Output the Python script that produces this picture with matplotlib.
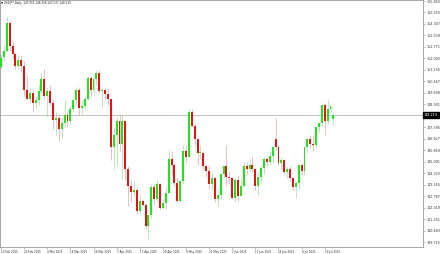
import matplotlib
matplotlib.use("Agg")
import matplotlib.pyplot as plt
import numpy as np

# USDJPY daily candles, 10 Feb 2025 .. 21 Jul 2025 (one row per trading day)
opens = [151.40, 152.10, 152.50, 154.40, 152.80, 152.30, 151.50, 151.90, 151.50, 149.90,
         149.30, 149.70, 149.00, 149.20, 149.80, 150.60, 149.50, 149.80, 149.00, 147.90,
         148.00, 147.30, 147.70, 148.20, 147.80, 148.60, 149.20, 149.90, 148.70, 148.80,
         149.30, 150.70, 149.90, 150.60, 151.00, 149.80, 149.90, 149.60, 149.30, 146.10,
         146.90, 147.80, 146.30, 147.80, 144.60, 143.50, 143.10, 143.20, 141.80, 142.50,
         142.20, 140.80, 141.50, 143.40, 142.60, 143.60, 142.00, 142.30, 143.00, 145.30,
         144.90, 143.70, 142.50, 143.80, 145.80, 145.40, 148.40, 147.50, 146.60, 145.70,
         145.70, 144.80, 144.50, 143.60, 144.00, 142.60, 142.90, 144.30, 144.80, 144.10,
         144.00, 142.70, 143.90, 142.80, 143.50, 144.80, 144.60, 144.90, 144.60, 143.50,
         144.10, 144.70, 145.30, 145.10, 145.50, 146.60, 146.10, 145.00, 145.20, 144.40,
         144.60, 144.00, 143.40, 143.70, 144.90, 144.50, 146.10, 146.60, 146.30, 146.20,
         147.40, 147.70, 148.90, 147.80, 148.60, 147.955]
highs = [152.30, 152.90, 154.80, 154.60, 153.20, 152.40, 152.20, 152.20, 151.80, 150.90,
         150.00, 149.90, 149.50, 150.20, 151.00, 151.30, 150.10, 150.20, 149.30, 148.40,
         148.20, 148.10, 149.20, 148.50, 148.80, 149.30, 150.10, 150.10, 149.20, 149.50,
         150.80, 150.80, 150.70, 151.20, 151.20, 150.00, 150.10, 150.00, 149.30, 147.40,
         148.10, 148.30, 148.30, 147.80, 144.80, 143.90, 143.90, 143.40, 142.90, 142.60,
         142.30, 141.50, 143.60, 143.60, 143.90, 143.70, 142.60, 143.40, 145.90, 145.80,
         145.00, 144.00, 143.90, 146.20, 146.20, 148.60, 148.60, 147.70, 146.70, 146.20,
         145.80, 144.90, 144.80, 144.40, 144.10, 143.30, 144.30, 144.90, 146.20, 144.50,
         144.00, 144.00, 144.20, 144.00, 145.10, 145.10, 145.30, 145.50, 144.70, 144.40,
         144.80, 145.40, 145.50, 145.80, 146.20, 148.00, 146.20, 145.40, 145.30, 144.80,
         144.80, 144.10, 143.80, 144.00, 145.00, 145.00, 146.20, 146.90, 146.80, 146.50,
         147.50, 147.80, 149.00, 149.20, 148.80, 148.358]
lows = [151.30, 151.80, 152.40, 152.50, 152.00, 151.30, 151.30, 151.10, 149.50, 149.30,
        149.00, 148.50, 148.70, 148.90, 149.70, 149.20, 148.10, 148.90, 147.30, 146.90,
        146.50, 146.70, 147.40, 147.40, 147.60, 148.50, 148.90, 148.20, 148.20, 148.60,
        149.20, 149.50, 149.50, 150.20, 149.70, 148.70, 149.30, 148.90, 145.20, 144.60,
        144.80, 145.80, 143.90, 143.90, 142.10, 142.40, 142.80, 141.60, 141.60, 142.10,
        140.60, 139.90, 141.30, 142.20, 142.50, 141.90, 141.90, 141.90, 143.00, 144.30,
        143.50, 142.40, 142.40, 143.60, 145.00, 145.40, 147.40, 146.20, 144.90, 145.30,
        144.60, 144.10, 143.30, 143.20, 142.40, 142.10, 142.60, 144.10, 143.50, 143.60,
        142.60, 142.40, 142.50, 142.80, 143.40, 144.30, 144.40, 144.40, 143.20, 142.80,
        143.70, 144.30, 144.80, 144.90, 145.00, 145.90, 144.90, 144.60, 144.30, 144.00,
        143.80, 143.20, 142.70, 143.30, 144.20, 144.20, 145.70, 146.00, 145.80, 146.10,
        147.10, 147.50, 146.90, 147.60, 148.40, 147.537]
closes = [152.00, 152.50, 154.40, 152.80, 152.30, 151.50, 151.90, 151.50, 149.90, 149.30,
          149.70, 149.00, 149.20, 149.80, 150.60, 149.50, 149.80, 149.00, 147.90, 148.00,
          147.30, 147.70, 148.20, 147.80, 148.60, 149.20, 149.90, 148.70, 148.80, 149.30,
          150.70, 149.90, 150.60, 151.00, 149.80, 149.90, 149.60, 149.30, 146.10, 146.90,
          147.80, 146.30, 147.80, 144.60, 143.50, 143.10, 143.20, 141.80, 142.50, 142.20,
          140.80, 141.50, 143.40, 142.60, 143.60, 142.00, 142.30, 143.00, 145.30, 144.90,
          143.70, 142.50, 143.80, 145.80, 145.40, 148.40, 147.50, 146.60, 145.70, 145.70,
          144.80, 144.50, 143.60, 144.00, 142.60, 142.90, 144.30, 144.80, 144.10, 144.00,
          142.70, 143.90, 142.80, 143.50, 144.80, 144.60, 144.90, 144.60, 143.50, 144.10,
          144.70, 145.30, 145.10, 145.50, 146.10, 146.10, 145.00, 145.20, 144.40, 144.60,
          144.00, 143.40, 143.70, 144.90, 144.50, 146.10, 146.60, 146.30, 146.20, 147.40,
          147.70, 148.90, 147.80, 148.60, 148.80, 148.219]

date_labels = ["10 Feb 2025", "20 Feb 2025", "4 Mar 2025", "14 Mar 2025", "26 Mar 2025",
               "7 Apr 2025", "17 Apr 2025", "29 Apr 2025", "9 May 2025", "21 May 2025",
               "2 Jun 2025", "12 Jun 2025", "24 Jun 2025", "4 Jul 2025", "16 Jul 2025"]
date_bars = [0, 8, 16, 24, 32, 40, 48, 56, 64, 72, 80, 88, 96, 104, 112]

price_ticks = [155.843, 155.075, 154.307, 153.539, 152.771, 152.003, 151.235, 150.467,
               149.699, 148.931, 147.395, 146.627, 145.859, 145.091, 144.323, 143.555,
               142.787, 142.019, 141.251, 140.483, 139.715]

symbol = "USDJPY,Daily"
last_price = closes[-1]

o = np.array(opens)
h = np.array(highs)
l = np.array(lows)
c = np.array(closes)
x = np.arange(len(o))
up = c >= o

fig = plt.figure(figsize=(4.4, 2.54), dpi=100)
ax = fig.add_axes([0, 7 / 254, 423 / 440, 247 / 254])

# wicks
ax.vlines(x[up], l[up], h[up], color="#9fe09f", linewidth=0.5, zorder=2)
ax.vlines(x[~up], l[~up], h[~up], color="#eba3a3", linewidth=0.5, zorder=2)

# bodies
body_lo = np.minimum(o, c)
body_h = np.maximum(np.abs(c - o), 0.03)
ax.bar(x[up], body_h[up], bottom=body_lo[up], width=0.68, color="#1ee61e", linewidth=0, zorder=3)
ax.bar(x[~up], body_h[~up], bottom=body_lo[~up], width=0.68, color="#e81212", linewidth=0, zorder=3)

# current price line
ax.axhline(last_price, color="#b8b8b8", linewidth=0.6, zorder=1)

ax.set_xlim(-0.35, 146.0)
ax.set_ylim(139.39, 155.91)

ax.yaxis.tick_right()
ax.set_yticks(price_ticks)
ax.set_yticklabels([f"{v:.3f}" for v in price_ticks])
ax.tick_params(axis="y", length=1.5, width=0.4, pad=1.2, labelsize=2.4,
               labelcolor="#333333", color="#888888")

ax.set_xticks(date_bars)
ax.set_xticklabels(date_labels, ha="left")
ax.tick_params(axis="x", length=1.5, width=0.4, pad=0.8, labelsize=2.0,
               labelcolor="#333333", color="#888888")

for s in ax.spines.values():
    s.set_color("#9a9a9a")
    s.set_linewidth(0.6)

# price box on the right scale
ax.text(1.002, last_price, f"{last_price:.3f}", transform=ax.get_yaxis_transform(),
        ha="left", va="center", fontsize=2.4, color="white",
        bbox=dict(boxstyle="square,pad=0.25", facecolor="black", edgecolor="black"))

# header line
ax.text(0.003, 0.996,
        f"\u25bc {symbol}  {opens[-1]:.3f} {highs[-1]:.3f} {lows[-1]:.3f} {closes[-1]:.3f}",
        transform=ax.transAxes, ha="left", va="top", fontsize=2.0, color="#222222")

fig.savefig("out.png", dpi=100)
